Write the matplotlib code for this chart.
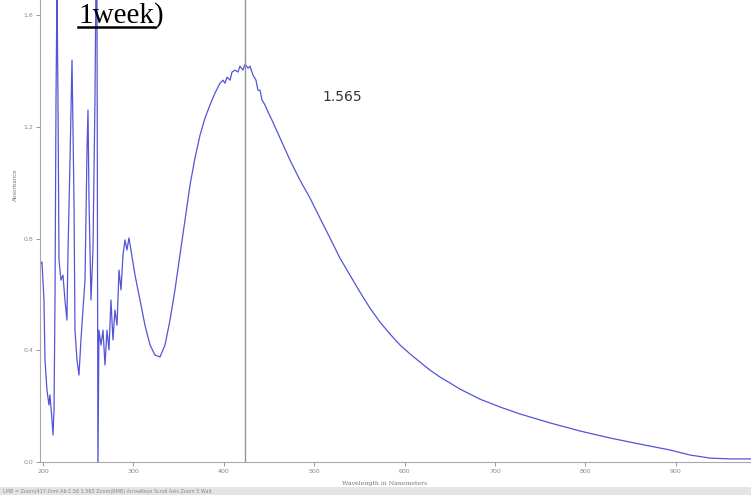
import matplotlib
matplotlib.use("Agg")
import matplotlib.pyplot as plt
from matplotlib.patches import Rectangle

# Spectrum data (wavelength in nm, absorbance)
wavelength = [196.7, 198.9, 201.1, 202.2, 204.4, 206.6, 207.7, 210.0, 211.1, 212.2,
              213.3, 214.4, 215.5, 216.6, 217.7, 219.9, 222.1, 224.3, 226.5, 227.7,
              229.9, 232.1, 234.3, 235.4, 237.6, 239.8, 242.0, 244.2, 246.5, 248.7,
              249.8, 250.9, 253.1, 255.3, 257.5, 258.6, 259.7, 260.8, 261.9, 264.2,
              266.4, 268.6, 270.8, 273.0, 275.2, 277.4, 279.6, 281.9, 284.1, 286.3,
              288.5, 290.7, 292.9, 295.1, 297.3, 301.8, 307.3, 312.8, 318.4, 323.9,
              329.4, 335.0, 340.5, 346.0, 351.5, 357.1, 362.6, 368.1, 373.7, 379.2,
              384.7, 390.3, 395.8, 399.1, 401.3, 403.6, 406.9, 409.1, 412.4, 415.7,
              417.9, 421.2, 423.5, 426.8, 429.0, 432.3, 435.6, 437.8, 440.1, 442.3,
              445.6, 448.9, 453.3, 462.2, 473.2, 484.3, 495.4, 506.4, 517.5, 528.5,
              539.6, 550.7, 561.7, 572.8, 583.9, 594.9, 606.0, 617.0, 628.1, 639.2,
              650.2, 661.3, 683.4, 705.5, 727.6, 760.8, 794.0, 827.2, 860.4, 893.6,
              915.7, 937.8, 960.0, 983.2]
absorbance = [0.705, 0.716, 0.580, 0.365, 0.258, 0.204, 0.240, 0.150, 0.097, 0.186,
              0.580, 1.296, 1.700, 1.296, 0.723, 0.651, 0.669, 0.580, 0.508, 0.759,
              1.081, 1.439, 0.938, 0.472, 0.365, 0.311, 0.437, 0.544, 0.651, 1.117,
              1.260, 0.938, 0.580, 0.759, 1.296, 1.700, 1.700, -0.030, 0.472, 0.419,
              0.472, 0.347, 0.472, 0.401, 0.580, 0.437, 0.544, 0.490, 0.687, 0.616,
              0.741, 0.795, 0.759, 0.802, 0.759, 0.669, 0.580, 0.490, 0.419, 0.383,
              0.376, 0.419, 0.508, 0.616, 0.741, 0.866, 0.991, 1.088, 1.170, 1.231,
              1.278, 1.321, 1.356, 1.367, 1.356, 1.378, 1.367, 1.396, 1.403, 1.396,
              1.417, 1.403, 1.424, 1.410, 1.417, 1.385, 1.367, 1.331, 1.331, 1.296,
              1.278, 1.253, 1.224, 1.160, 1.081, 1.009, 0.945, 0.873, 0.802, 0.730,
              0.669, 0.608, 0.551, 0.501, 0.458, 0.419, 0.387, 0.358, 0.329, 0.304,
              0.283, 0.261, 0.225, 0.197, 0.172, 0.140, 0.111, 0.086, 0.064, 0.043,
              0.025, 0.014, 0.011, 0.011]

peak_nm = 423.5
peak_label = "1.565"
x_ticks = [200, 300, 400, 500, 600, 700, 800, 900]
y_ticks = [0.0, 0.4, 0.8, 1.2, 1.6]

W, H = 751, 495
fig = plt.figure(figsize=(W / 100, H / 100), dpi=100)
fig.patch.set_facecolor("white")

ax = fig.add_axes([40 / W, 1 - 462 / H, 1 - 40 / W, 462 / H])
ax.plot(wavelength, absorbance, color="#5454d8", lw=0.9, clip_on=True)
ax.axvline(peak_nm, color="#8c9a8c", lw=1.0)
ax.set_xlim(196.7, 983.2)
ax.set_ylim(0.0, 1.654)

for s in ["top", "right"]:
    ax.spines[s].set_visible(False)
for s in ["left", "bottom"]:
    ax.spines[s].set_color("#a8a8a8")
    ax.spines[s].set_linewidth(0.8)

ax.set_xticks(x_ticks)
ax.set_xticklabels([str(t) for t in x_ticks])
ax.set_yticks(y_ticks)
ax.set_yticklabels([f"{t:.1f}" for t in y_ticks])
ax.tick_params(axis="both", colors="#888888", labelsize=4.5, length=3, width=0.6, pad=2)

ax.text(509, 1.306, peak_label, fontsize=10, color="#333333", va="center", ha="left",
        family="DejaVu Sans")

# axis titles (tiny, as in the screenshot)
fig.text(385 / W, 1 - 483 / H, "Wavelength in Nanometers", fontsize=4.5, color="#777777",
         ha="center", va="center", family="DejaVu Serif")
fig.text(15 / W, 1 - 185 / H, "Absorbance", fontsize=4, color="#777777",
         ha="center", va="center", rotation=90)

# status bar
fig.patches.append(Rectangle((0, 0), 1, 8 / H, transform=fig.transFigure,
                             facecolor="#e4e4e4", edgecolor="none"))
fig.text(3 / W, 4 / H, "LMB = Zoom(417.0nm Ab:1.56 1.565 Zoom(RMB) ArrowKeys Scroll Axis Zoom 5 Wait",
         fontsize=3.5, color="#888888", ha="left", va="center")

# title fragment at top
fig.text(78 / W, 1 - 23 / H, "1week)", fontsize=21, color="black", ha="left",
         va="baseline", family="Liberation Serif")
fig.add_artist(plt.Line2D([78 / W, 155 / W], [1 - 27 / H, 1 - 27 / H],
                          transform=fig.transFigure, color="black", lw=1.8))

fig.savefig("out.png", dpi=100)
